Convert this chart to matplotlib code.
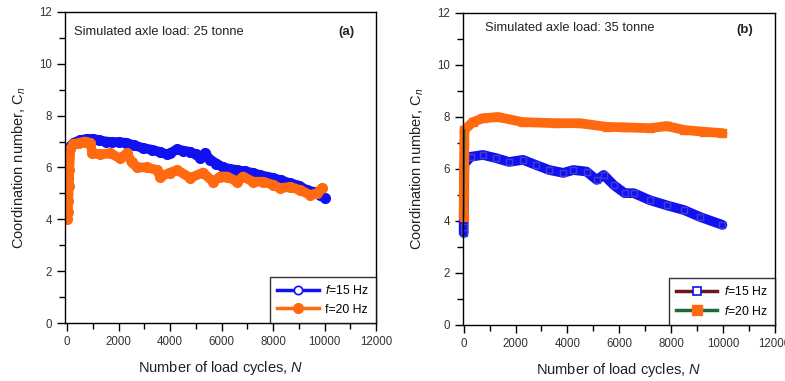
import matplotlib
matplotlib.use("Agg")
import matplotlib.pyplot as plt
from matplotlib.lines import Line2D
from matplotlib.ticker import MultipleLocator
import numpy as np

plt.rcParams['font.family'] = ['Liberation Sans', 'DejaVu Sans']
plt.rcParams['mathtext.fontset'] = 'custom'
plt.rcParams['mathtext.rm'] = 'Liberation Sans'
plt.rcParams['mathtext.it'] = 'Liberation Sans:italic'

# panel (a) - 25 tonne
a15_x = [0, 10, 20, 30, 50, 100, 250, 500, 750, 1000, 1250, 1500, 1750, 2000, 2300, 2600, 2950,
         3300, 3600, 3880, 4000, 4270, 4500, 4780, 5000, 5170, 5360, 5550, 5800, 6060, 6300,
         6600, 6900, 7220, 7500, 7990, 8300, 8640, 9000, 9300, 9600, 9820, 10000]
a15_y = [4.3, 5.0, 5.6, 6.2, 6.7, 6.8, 6.95, 7.05, 7.1, 7.1, 7.05, 7.0, 6.98, 6.97, 6.95, 6.85, 6.75,
         6.68, 6.6, 6.5, 6.55, 6.7, 6.65, 6.6, 6.5, 6.37, 6.55, 6.3, 6.15, 6.0, 5.95,
         5.9, 5.85, 5.79, 5.7, 5.6, 5.5, 5.4, 5.3, 5.13, 5.05, 4.94, 4.83]

a20_x = [0, 20, 40, 60, 80, 120, 230, 450, 700, 900, 970, 1280, 1670, 2060, 2330, 2500, 2720,
         3100, 3500, 3610, 4000, 4270, 4780, 5280, 5670, 5940, 6210, 6600, 6830, 7220,
         7610, 8000, 8270, 8660, 9050, 9440, 9700, 9900]
a20_y = [4.0, 4.3, 4.7, 5.3, 5.9, 6.7, 6.9, 6.95, 7.0, 6.95, 6.56, 6.5, 6.55, 6.35, 6.55, 6.2, 6.0,
         6.0, 5.9, 5.65, 5.8, 5.9, 5.6, 5.8, 5.45, 5.65, 5.65, 5.45, 5.65, 5.45,
         5.45, 5.33, 5.2, 5.25, 5.13, 4.94, 5.0, 5.2]

# panel (b) - 35 tonne
b15_x = [0, 0, 10, 15, 20, 30, 270, 740, 1240, 1750, 2290, 2800, 3300, 3840, 4230, 4740,
         5130, 5400, 5790, 6210, 6560, 7180, 7840, 8500, 9130, 9980]
b15_y = [3.54, 3.77, 4.8, 5.2, 5.7, 6.2, 6.47, 6.54, 6.42, 6.27, 6.35, 6.15, 5.96, 5.85, 5.96, 5.9,
         5.58, 5.77, 5.38, 5.07, 5.07, 4.8, 4.6, 4.42, 4.15, 3.85]

b20_x = [0, 5, 10, 15, 20, 25, 30, 350, 740, 1320, 2290, 3570, 4470, 5510, 6170, 7180, 7840,
         8500, 9280, 9980]
b20_y = [4.15, 5.07, 5.58, 5.96, 6.47, 7.0, 7.5, 7.8, 7.95, 8.0, 7.8, 7.76, 7.76, 7.62, 7.6, 7.57, 7.65,
         7.5, 7.43, 7.38]

blue = '#1010f0'
orange = '#ff6a10'
brown = '#6b1a1a'
green = '#1b6b3a'

fig = plt.figure(figsize=(7.85, 3.81), dpi=100)
ax1 = fig.add_axes([0.083, 0.152, 0.396, 0.817])
ax2 = fig.add_axes([0.590, 0.147, 0.397, 0.819])

# panel a
ax1.plot(a15_x, a15_y, color=blue, lw=7, marker='o', ms=7, solid_capstyle='round', solid_joinstyle='round')
ax1.plot(a20_x, a20_y, color=orange, lw=7, marker='o', ms=7, solid_capstyle='round', solid_joinstyle='round')

# panel b
ax2.plot(b15_x, b15_y, color=blue, lw=7, marker='s', ms=5, mfc='none', mec='#4040d0',
         solid_capstyle='round', solid_joinstyle='round', clip_on=False)
ax2.plot(b20_x, b20_y, color=orange, lw=7, marker='s', ms=6, solid_capstyle='round',
         solid_joinstyle='round', clip_on=False)
ax2.plot(b20_x[:7], b20_y[:7], color=green, lw=1.2, clip_on=False)

for ax, xmin in [(ax1, -80), (ax2, -20)]:
    ax.set_xlim(xmin, 12000)
    ax.set_ylim(0, 12)
    ax.xaxis.set_major_locator(MultipleLocator(2000))
    ax.xaxis.set_minor_locator(MultipleLocator(1000))
    ax.yaxis.set_major_locator(MultipleLocator(2))
    ax.yaxis.set_minor_locator(MultipleLocator(1))
    ax.tick_params(which='major', direction='out', length=6, width=1, labelsize=8.3, labelcolor='#333333')
    ax.tick_params(which='minor', direction='out', length=4, width=1)
    ax.tick_params(top=False, right=False)
    for s in ax.spines.values():
        s.set_linewidth(1)
    ax.set_xlabel('Number of load cycles, $N$', fontsize=10.5, color='#222222', labelpad=8)
    ax.set_ylabel('Coordination number, C$_n$', fontsize=10.5, color='#222222', labelpad=8)

ax1.text(0.03, 0.955, 'Simulated axle load: 25 tonne', transform=ax1.transAxes,
         fontsize=9.3, va='top', ha='left', color='#222222')
ax1.text(0.93, 0.955, '(a)', transform=ax1.transAxes, fontsize=9.5, fontweight='bold',
         va='top', ha='right', color='#222222')
ax2.text(0.07, 0.97, 'Simulated axle load: 35 tonne', transform=ax2.transAxes,
         fontsize=9.3, va='top', ha='left', color='#222222')
ax2.text(0.93, 0.965, '(b)', transform=ax2.transAxes, fontsize=9.5, fontweight='bold',
         va='top', ha='right', color='#222222')

h_a = [Line2D([], [], color=blue, lw=2.5, marker='o', ms=6, mfc='white', mec=blue, mew=1.2),
       Line2D([], [], color=orange, lw=2.5, marker='o', ms=7, mfc=orange, mec=orange)]
h_b = [Line2D([], [], color=brown, lw=2.5, marker='s', ms=6, mfc='white', mec=blue, mew=1.2),
       Line2D([], [], color=green, lw=2.5, marker='s', ms=7, mfc=orange, mec=orange)]

for ax, hs, labs in [(ax1, h_a, ['$f$=15 Hz', 'f=20 Hz']),
                     (ax2, h_b, ['$f$=15 Hz', '$f$=20 Hz'])]:
    leg = ax.legend(hs, labs, loc='lower right', fontsize=8.8, frameon=True, fancybox=False,
                    edgecolor='black', borderaxespad=0, handlelength=3.4, handletextpad=0.5,
                    labelspacing=0.55, borderpad=0.6)
    leg.get_frame().set_linewidth(1)

fig.savefig('out.png', dpi=100)
